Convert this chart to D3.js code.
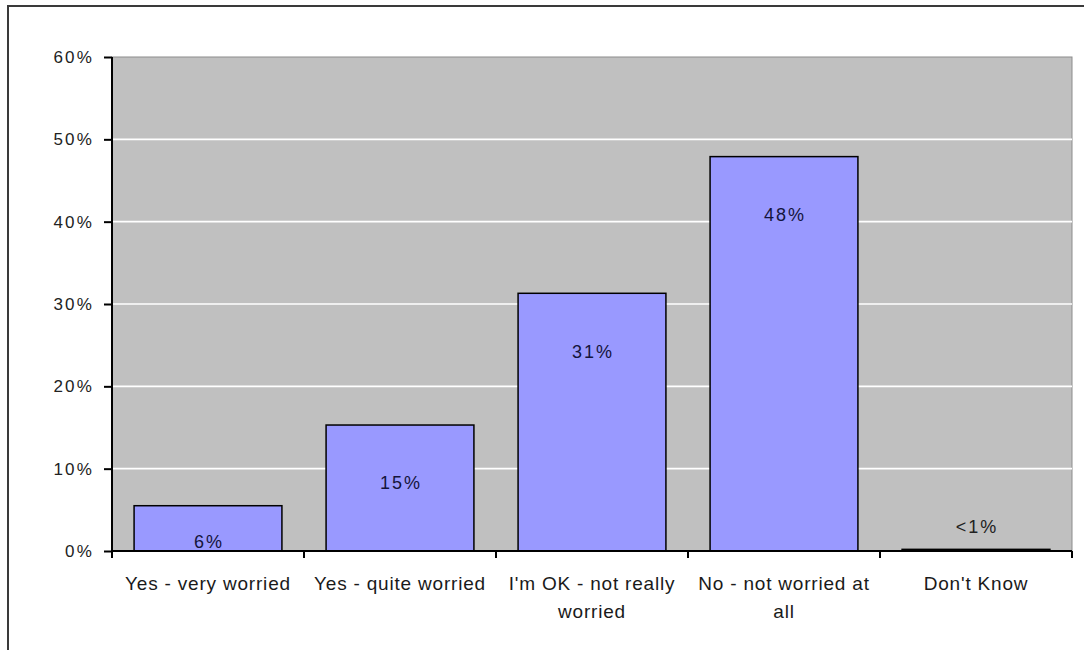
<!DOCTYPE html>
<html>
<head>
<meta charset="utf-8">
<script src="https://cdn.jsdelivr.net/npm/d3@7"></script>
<style>
  html, body { margin: 0; padding: 0; background: #fff; }
  svg { display: block; font-family: "Liberation Sans", Arial, sans-serif; }
</style>
</head>
<body>
<svg id="chart" width="1084" height="650"></svg>
<script>
// Survey responses: share of respondents per answer (percent)
const categories = [
  "Yes - very worried",
  "Yes - quite worried",
  "I'm OK - not really worried",
  "No - not worried at all",
  "Don't Know"
];
const values = [5.5, 15.3, 31.3, 47.9, 0.2];
const yTickValues = [0, 10, 20, 30, 40, 50, 60];

const W = 1084, H = 650;
const plot = { left: 112, top: 57, right: 1072, bottom: 551 };

const svg = d3.select("#chart");

// outer chart frame
svg.append("rect")
  .attr("x", 8).attr("y", 6)
  .attr("width", W + 20).attr("height", H + 20)
  .attr("fill", "#fff")
  .attr("stroke", "#3a3a3a")
  .attr("stroke-width", 2);

const x = d3.scaleBand()
  .domain(categories)
  .range([plot.left, plot.right])
  .paddingInner(0.23)
  .paddingOuter(0.115);

const y = d3.scaleLinear()
  .domain([0, 60])
  .range([plot.bottom, plot.top]);

// plot area
svg.append("rect")
  .attr("x", plot.left).attr("y", plot.top)
  .attr("width", plot.right - plot.left)
  .attr("height", plot.bottom - plot.top)
  .attr("fill", "#c0c0c0")
  .attr("stroke", "#8c8c8c")
  .attr("stroke-width", 1);

// horizontal gridlines
svg.append("g")
  .selectAll("line")
  .data(yTickValues.filter(d => d > 0 && d < 60))
  .join("line")
  .attr("x1", plot.left).attr("x2", plot.right)
  .attr("y1", d => y(d)).attr("y2", d => y(d))
  .attr("stroke", "#fff")
  .attr("stroke-width", 1.6);

// bars
svg.append("g")
  .selectAll("rect")
  .data(values)
  .join("rect")
  .attr("x", (d, i) => x(categories[i]))
  .attr("y", d => y(d))
  .attr("width", x.bandwidth())
  .attr("height", d => y(0) - y(d))
  .attr("fill", "#9999ff")
  .attr("stroke", "#000")
  .attr("stroke-width", 1.5);

// value labels
const fmt = v => v < 1 ? "<1%" : Math.round(v) + "%";
svg.append("g")
  .selectAll("text")
  .data(values)
  .join("text")
  .attr("x", (d, i) => x(categories[i]) + x.bandwidth() / 2 + 1)
  .attr("y", d => d < 1 ? y(d) - 23 : Math.min(y(d) + 58, y(0) - 9))
  .attr("dy", "0.35em")
  .attr("text-anchor", "middle")
  .attr("font-size", 18)
  .attr("letter-spacing", 2)
  .attr("fill", d => d < 1 ? "#222" : "#14143c")
  .text(fmt);

// y axis
const yAxis = d3.axisLeft(y)
  .tickValues(yTickValues)
  .tickSize(8)
  .tickPadding(10)
  .tickFormat(d => d + "%");
const gy = svg.append("g")
  .attr("transform", `translate(${plot.left},0)`)
  .call(yAxis);
gy.select(".domain").attr("stroke", "#000").attr("stroke-width", 2).attr("d", `M0,${plot.top}V${plot.bottom}`);
gy.selectAll(".tick line").attr("stroke", "#000").attr("stroke-width", 2);
gy.selectAll(".tick text")
  .attr("font-size", 17)
  .attr("letter-spacing", 2.2)
  .attr("fill", "#222")
  .attr("font-family", "Liberation Sans, Arial, sans-serif");

// x axis baseline and category boundary ticks
const gx = svg.append("g");
gx.append("line")
  .attr("x1", plot.left).attr("x2", plot.right)
  .attr("y1", y(0)).attr("y2", y(0))
  .attr("stroke", "#000").attr("stroke-width", 2);
const boundaries = d3.range(categories.length + 1).map(i => plot.left + i * x.step());
gx.selectAll("line.tk")
  .data(boundaries)
  .join("line")
  .attr("class", "tk")
  .attr("x1", d => d).attr("x2", d => d)
  .attr("y1", y(0)).attr("y2", y(0) + 7)
  .attr("stroke", "#000").attr("stroke-width", 2);

// category labels, wrapped to the band width
const labelWidth = x.step() - 6;
const catText = gx.selectAll("text.cat")
  .data(categories)
  .join("text")
  .attr("class", "cat")
  .attr("text-anchor", "middle")
  .attr("font-size", 19)
  .attr("letter-spacing", 0.8)
  .attr("fill", "#1a1a1a");

catText.each(function(label) {
  const t = d3.select(this);
  const cx = x(label) + x.bandwidth() / 2;
  const words = label.split(" ");
  const lines = [];
  let line = [];
  const probe = t.append("tspan");
  for (const w of words) {
    const trial = line.concat(w).join(" ");
    probe.text(trial);
    if (probe.node().getComputedTextLength() > labelWidth && line.length) {
      lines.push(line.join(" "));
      line = [w];
    } else {
      line.push(w);
    }
  }
  lines.push(line.join(" "));
  probe.remove();
  lines.forEach((s, i) => {
    t.append("tspan")
      .attr("x", cx)
      .attr("y", 590 + i * 28)
      .text(s);
  });
});
</script>
</body>
</html>
